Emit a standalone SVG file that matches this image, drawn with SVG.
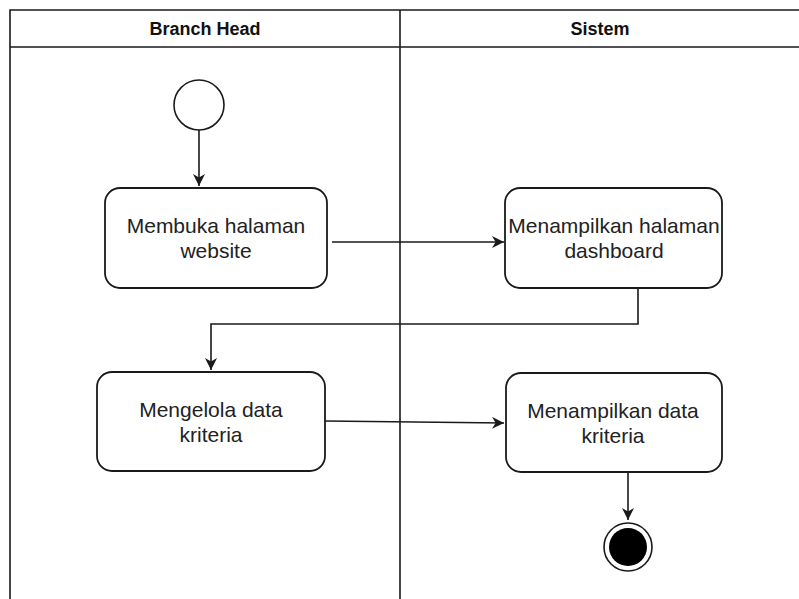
<svg xmlns="http://www.w3.org/2000/svg" width="799" height="599" viewBox="0 0 799 599">
<style>
.frame{fill:none;stroke:#1a1a1a;stroke-width:1.6}
.box{fill:#fff;stroke:#1a1a1a;stroke-width:1.8}
.edge{fill:none;stroke:#1a1a1a;stroke-width:1.6}
.hd{font-family:"Liberation Sans",Arial,sans-serif;font-weight:bold;font-size:18px;fill:#111;text-anchor:middle}
.lbl{font-family:"Liberation Sans",Arial,sans-serif;font-size:21px;fill:#222;text-anchor:middle}
</style>
<defs>
<marker id="arr" viewBox="0 0 10 10" refX="10" refY="5" markerWidth="12" markerHeight="12" markerUnits="userSpaceOnUse" orient="auto">
<path d="M0,0 L10,5 L0,10 L3,5 Z" fill="#1a1a1a"/>
</marker>
</defs>
<rect width="799" height="599" fill="#fff"/>
<g id="pool">
<path class="frame" d="M10,599 V10 H799 M10,47 H799 M400,10 V599"/>
<text class="hd" x="205" y="35">Branch Head</text>
<text class="hd" x="600" y="35">Sistem</text>
</g>
<g id="connectors">
<path class="edge" d="M199,130 V186" marker-end="url(#arr)"/>
<path class="edge" d="M332,242 H504" marker-end="url(#arr)"/>
<path class="edge" d="M638,288 V324 H211 V370" marker-end="url(#arr)"/>
<path class="edge" d="M325,421 L504,423" marker-end="url(#arr)"/>
<path class="edge" d="M628,472 V520" marker-end="url(#arr)"/>
</g>
<g id="start">
<circle cx="199" cy="105" r="25" fill="#fff" stroke="#1a1a1a" stroke-width="1.6"/>
</g>
<g id="n1">
<rect class="box" x="105" y="188" width="222" height="100" rx="15"/>
<text class="lbl" x="216" y="233">Membuka halaman</text>
<text class="lbl" x="216" y="258">website</text>
</g>
<g id="n2">
<rect class="box" x="505" y="188" width="217" height="100" rx="15"/>
<text class="lbl" x="614" y="233">Menampilkan halaman</text>
<text class="lbl" x="614" y="258">dashboard</text>
</g>
<g id="n3">
<rect class="box" x="97" y="372" width="228" height="99" rx="15"/>
<text class="lbl" x="211" y="417">Mengelola data</text>
<text class="lbl" x="211" y="442">kriteria</text>
</g>
<g id="n4">
<rect class="box" x="506" y="373" width="216" height="99" rx="15"/>
<text class="lbl" x="613" y="418">Menampilkan data</text>
<text class="lbl" x="613" y="443">kriteria</text>
</g>
<g id="end">
<circle cx="628" cy="547" r="24" fill="#fff" stroke="#1a1a1a" stroke-width="1.6"/>
<circle cx="628" cy="547" r="19" fill="#000"/>
</g>
</svg>
